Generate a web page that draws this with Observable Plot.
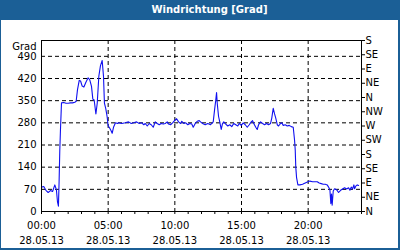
<!DOCTYPE html>
<html>
<head>
<meta charset="utf-8">
<script src="https://cdn.jsdelivr.net/npm/d3@7"></script>
<script src="https://cdn.jsdelivr.net/npm/@observablehq/plot@0.6"></script>
<style>
  html, body { margin: 0; padding: 0; background: #fff; }
  #frame { position: relative; width: 400px; height: 250px; background: #1b5f96; overflow: hidden; }
  #title { position: absolute; left: 0; top: 0; width: 400px; height: 20px;
           text-align: center; color: #fff; font: bold 10px "DejaVu Sans", sans-serif; line-height: 20px;
           padding-left: 19px; box-sizing: border-box; }
  #chart { position: absolute; left: 1px; top: 20px; width: 397px; height: 228px; background: #fff; }
  #chart svg { display: block; }
</style>
</head>
<body>
<div id="frame">
  <div id="title">Windrichtung [Grad]</div>
  <div id="chart"></div>
</div>
<script>
// Time of day (hours) and wind direction (degrees)
const hours = [
  0.00, 0.17, 0.33, 0.50, 0.67, 0.83, 1.00, 1.12, 1.20, 1.27, 1.32, 1.37, 1.42, 1.50,
  1.67, 1.83, 2.00, 2.17, 2.33, 2.50, 2.60, 2.70, 2.83, 2.93, 3.05, 3.18, 3.33, 3.50,
  3.62, 3.75, 3.85, 3.95, 4.08, 4.18, 4.30, 4.42, 4.55, 4.65, 4.72, 4.82, 4.92, 5.00,
  5.08, 5.22, 5.30, 5.40, 5.55, 5.70, 5.78, 6.02, 6.28, 6.53, 6.73, 6.92, 7.13, 7.33,
  7.52, 7.67, 7.78, 7.93, 8.08, 8.23, 8.38, 8.53, 8.68, 8.83, 8.98, 9.13, 9.28, 9.43,
  9.53, 9.68, 9.83, 9.98, 10.13, 10.28, 10.43, 10.52, 10.67, 10.82, 10.97, 11.12, 11.27,
  11.38, 11.53, 11.68, 11.83, 11.93, 12.08, 12.28, 12.47, 12.68, 12.88, 12.98, 13.07,
  13.13, 13.18, 13.28, 13.37, 13.48, 13.58, 13.67, 13.82, 13.97, 14.12, 14.27, 14.42,
  14.57, 14.72, 14.83, 14.98, 15.13, 15.28, 15.43, 15.58, 15.73, 15.83, 15.92, 16.07,
  16.18, 16.28, 16.43, 16.58, 16.73, 16.88, 17.03, 17.18, 17.27, 17.38, 17.48, 17.57,
  17.68, 17.78, 17.93, 18.02, 18.13, 18.28, 18.43, 18.58, 18.73, 18.88, 18.98, 19.03,
  19.07, 19.13, 19.23, 19.38, 19.58, 19.78, 19.98, 20.13, 20.33, 20.53, 20.68, 20.83,
  20.98, 21.13, 21.28, 21.43, 21.53, 21.63, 21.70, 21.75, 21.80, 21.88, 21.98, 22.13,
  22.28, 22.43, 22.58, 22.73, 22.88, 23.03, 23.13, 23.23, 23.33, 23.43, 23.48, 23.57,
  23.68, 23.78
];
const degrees = [
  77, 79, 67, 60, 66, 63, 84, 68, 30, 17, 95, 190, 255, 343,
  344, 342, 342, 343, 343, 345, 348, 385, 414, 412, 396, 393, 408, 422,
  416, 395, 355, 352, 308, 342, 427, 460, 477, 427, 342, 325, 300, 270,
  266, 255, 247, 266, 280, 278, 280, 278, 280, 283, 278, 280, 283, 278,
  280, 274, 278, 270, 278, 274, 266, 283, 278, 274, 278, 276, 278, 283,
  276, 274, 280, 287, 293, 283, 278, 285, 278, 280, 274, 278, 276,
  266, 278, 285, 287, 283, 278, 274, 278, 274, 283, 321, 352,
  376, 342, 300, 283, 259, 278, 283, 276, 270, 274, 268, 278,
  274, 270, 278, 272, 280, 274, 266, 274, 283, 287, 278, 266,
  259, 274, 283, 278, 274, 278, 274, 278, 295, 326, 308, 295,
  274, 270, 278, 280, 272, 274, 270, 272, 268, 266, 225, 194,
  141, 107, 84, 84, 86, 90, 94, 96, 94, 94, 94, 90,
  88, 86, 86, 84, 77, 69, 25, 55, 20, 65, 72, 69,
  60, 67, 71, 75, 71, 75, 67, 77, 71, 84, 72, 80,
  84, 82
];

// Axis ticks and labels
const degreeTicks = [0, 70, 140, 210, 280, 350, 420, 490];
const compassTicks = [0, 45, 90, 135, 180, 225, 270, 315, 360, 405, 450, 495, 540];
const compassLabels = ["N", "NE", "E", "SE", "S", "SW", "W", "NW", "N", "NE", "E", "SE", "S"];
const hourTicks = [0, 1, 2, 3, 4, 5, 6, 7, 8, 9, 10, 11, 12, 13, 14, 15, 16, 17, 18, 19, 20, 21, 22, 23, 24];
const labelHours = [0, 5, 10, 15, 20];
const hourLabels = ["00:00", "05:00", "10:00", "15:00", "20:00"];
const dateLabel = "28.05.13";
const gridHours = [5, 10, 15, 20];

const data = hours.map((h, i) => ({h, v: degrees[i]}));

const chart = Plot.plot({
  width: 397,
  height: 228,
  marginLeft: 40,
  marginRight: 37,
  marginTop: 20,
  marginBottom: 37,
  style: {fontFamily: "DejaVu Sans, sans-serif", fontSize: "10px", color: "#000", background: "#fff"},
  x: {domain: [0, 24]},
  y: {domain: [0, 540]},
  marks: [
    Plot.gridY(degreeTicks.slice(1), {stroke: "#000", strokeOpacity: 1, strokeDasharray: "4,3"}),
    Plot.gridX(gridHours, {stroke: "#000", strokeOpacity: 1, strokeDasharray: "4,3"}),
    Plot.line(data, {x: "h", y: "v", stroke: "#1010f0", strokeWidth: 1.1}),
    Plot.frame({stroke: "#000"}),
    Plot.axisY(degreeTicks, {anchor: "left", tickSize: 0, tickPadding: 5, label: null, fill: "#000"}),
    Plot.axisY(compassTicks, {anchor: "right", tickSize: 3, tickPadding: 1, label: null, fill: "#000",
      tickFormat: d => compassLabels[compassTicks.indexOf(d)]}),
    Plot.axisX(hourTicks, {anchor: "bottom", tickSize: 3, tickFormat: () => "", label: null}),
    Plot.axisX(labelHours, {anchor: "bottom", tickSize: 0, tickPadding: 7, label: null, fill: "#000", lineHeight: 1.5,
      tickFormat: d => hourLabels[labelHours.indexOf(d)] + "\n" + dateLabel}),
    Plot.text(["Grad"], {frameAnchor: "top-left", dx: -5, dy: 6, lineAnchor: "middle", textAnchor: "end", fill: "#000"})
  ]
});
document.getElementById("chart").appendChild(chart);
</script>
</body>
</html>
